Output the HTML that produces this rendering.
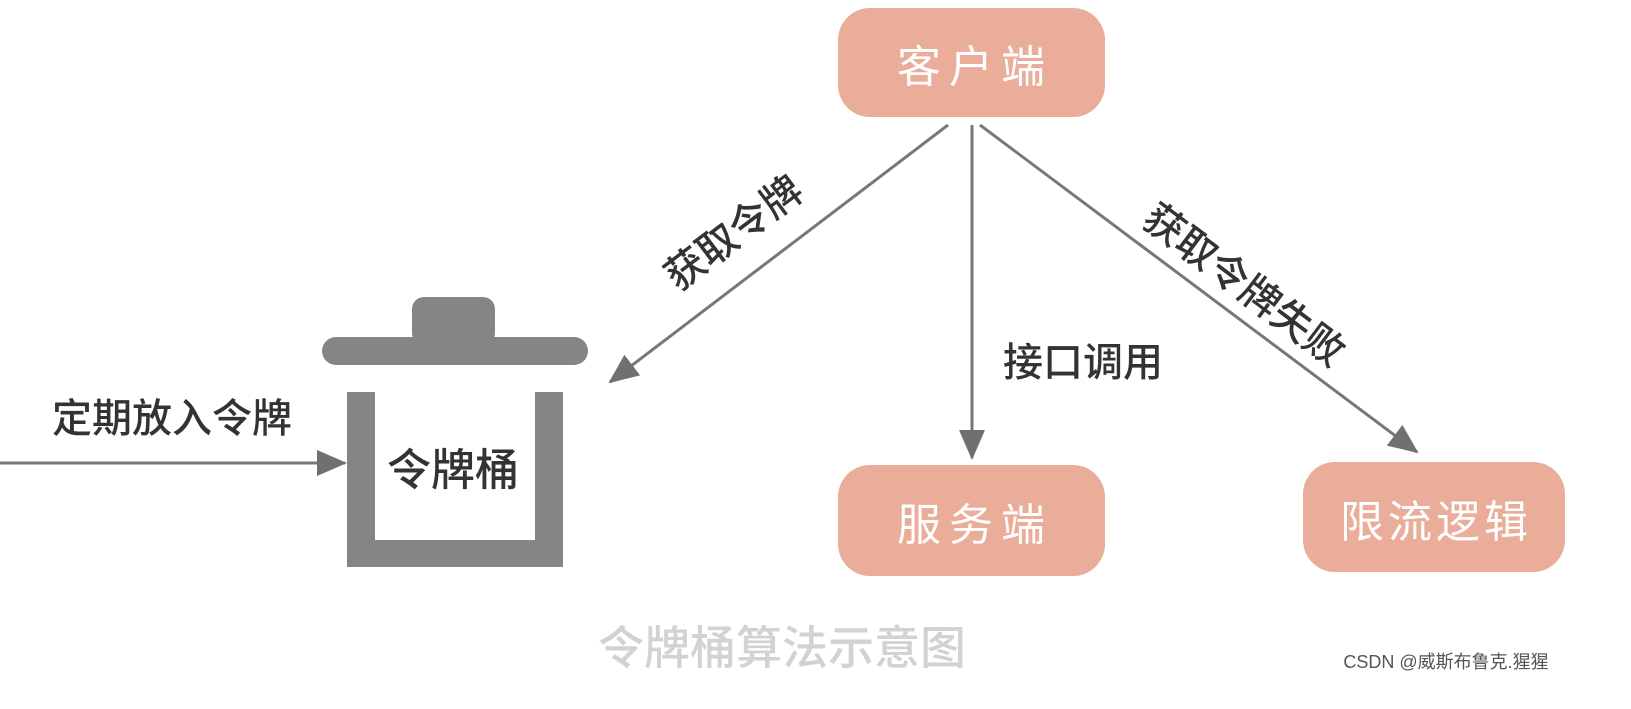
<!DOCTYPE html>
<html><head><meta charset="utf-8"><style>
body{margin:0;background:#fff}
text{font-family:"Liberation Sans","Noto Sans CJK SC",sans-serif}
</style></head><body>
<svg width="1631" height="704" viewBox="0 0 1631 704" xmlns="http://www.w3.org/2000/svg">
<defs>
<marker id="b" markerWidth="30" markerHeight="30" refX="28" refY="15" orient="auto" markerUnits="userSpaceOnUse" viewBox="0 0 30 30"><path d="M0,2 L30,15 L0,28z" fill="#707070"/></marker></defs>
<rect x="838" y="8" width="267" height="109" rx="32" fill="#e9ad9a"/>
<rect x="838" y="465" width="267" height="111" rx="32" fill="#e9ad9a"/>
<rect x="1303" y="462" width="262" height="110" rx="32" fill="#e9ad9a"/>
<text x="975" y="82" font-size="44" fill="#fff" text-anchor="middle" letter-spacing="8">客户端</text>
<text x="975" y="540" font-size="44" fill="#fff" text-anchor="middle" letter-spacing="8">服务端</text>
<text x="1436" y="537" font-size="44" fill="#fff" text-anchor="middle" letter-spacing="4">限流逻辑</text>
<g fill="#858585">
<rect x="322" y="337" width="266" height="28" rx="14"/>
<rect x="412" y="297" width="83" height="48" rx="12"/>
<rect x="347" y="392" width="28" height="175"/>
<rect x="535" y="392" width="28" height="175"/>
<rect x="347" y="540" width="216" height="27"/>
</g>
<text x="453" y="485" font-size="44" font-weight="500" fill="#333" text-anchor="middle">令牌桶</text>
<g stroke="#777" stroke-width="3" fill="none" marker-end="url(#b)">
<line x1="0" y1="463" x2="345" y2="463"/>
<line x1="948" y1="125" x2="610" y2="382"/>
<line x1="972" y1="125" x2="972" y2="458"/>
<line x1="980" y1="125" x2="1417" y2="452"/>
</g>
<text x="172" y="432" font-size="40" font-weight="500" fill="#333" text-anchor="middle">定期放入令牌</text>
<text x="1083" y="376" font-size="40" font-weight="500" fill="#333" text-anchor="middle">接口调用</text>
<text transform="translate(742,244) rotate(-37)" font-size="40" font-weight="500" fill="#333" text-anchor="middle">获取令牌</text>
<text transform="translate(1236,296) rotate(37)" font-size="40" font-weight="500" fill="#333" text-anchor="middle">获取令牌失败</text>
<text x="782" y="664" font-size="46" font-weight="500" fill="#d2d2d2" text-anchor="middle">令牌桶算法示意图</text>
<text x="1446" y="668" font-size="18" fill="#555" text-anchor="middle">CSDN @威斯布鲁克.猩猩</text>
</svg>
</body></html>
